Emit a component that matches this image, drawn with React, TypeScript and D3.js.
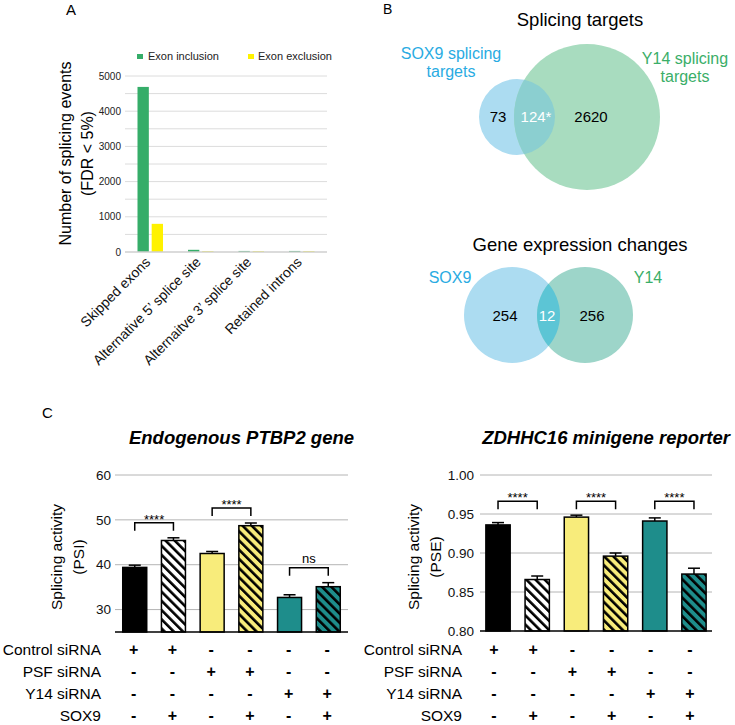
import React from 'react';
import * as d3 from 'd3';

const FONT = '"Liberation Sans", Arial, Helvetica, sans-serif';

// ---------- Panel A data ----------
const spliceCategories = ['Skipped exons', 'Alternative 5’ splice site', 'Alternaitve 3’ splice site', 'Retained introns'];
const seriesNames = ['Exon inclusion', 'Exon exclusion'];
const exonInclusion = [4690, 62, 30, 30];
const exonExclusion = [800, 22, 22, 22];
const countTicks = [0, 1000, 2000, 3000, 4000, 5000];

// ---------- Panel B data ----------
const splicingTitle = 'Splicing targets';
const splicingSetLabels = [['SOX9 splicing', 'targets'], ['Y14 splicing', 'targets']];
const splicingCounts = ['73', '124*', '2620'];
const expressionTitle = 'Gene expression changes';
const expressionSetLabels = ['SOX9', 'Y14'];
const expressionCounts = ['254', '12', '256'];

// ---------- Panel C data ----------
const conditionNames = ['Control siRNA', 'PSF siRNA', 'Y14 siRNA', 'SOX9'];
const conditionMatrix = [
  [1, 1, 0, 0, 0, 0],
  [0, 0, 1, 1, 0, 0],
  [0, 0, 0, 0, 1, 1],
  [0, 1, 0, 1, 0, 1],
];
const psiMeans = [39.4, 45.4, 42.5, 48.7, 32.7, 35.1];
const psiErrors = [0.5, 0.6, 0.45, 0.6, 0.6, 0.9];
const psiSignificance = ['****', '****', 'ns'];
const psiTicks = [30, 40, 50, 60];
const pseMeans = [0.936, 0.866, 0.946, 0.896, 0.941, 0.873];
const pseErrors = [0.003, 0.0045, 0.0025, 0.004, 0.004, 0.0075];
const pseSignificance = ['****', '****', '****'];
const pseTicks = [0.8, 0.85, 0.9, 0.95, 1.0];

const GREEN = '#35ad69';
const YELLOW = '#fff200';
const barFills = ['#000000', 'url(#hatchWhite)', '#f8ec7b', 'url(#hatchYellow)', '#1e8d8b', 'url(#hatchTeal)'];

function PanelA() {
  const x0 = d3.scaleBand<string>().domain(spliceCategories).range([125, 327]);
  const x1 = d3.scaleBand<string>().domain(seriesNames).range([12.5, 38]).paddingInner(0.2);
  const y = d3.scaleLinear().domain([0, 5000]).range([252, 76]);
  const grid = d3.range(500, 5001, 500);
  const series = [exonInclusion, exonExclusion];
  const colors = [GREEN, YELLOW];
  return (
    <g fontFamily={FONT}>
      <text x={66} y={15} fontSize={15}>A</text>
      {seriesNames.map((s, i) => (
        <g key={s}>
          <rect x={137 + i * 111} y={54} width={6} height={5} fill={colors[i]} />
          <text x={148 + i * 110} y={60} fontSize={11} fill="#222">{s}</text>
        </g>
      ))}
      {grid.map((g) => (
        <line key={g} x1={125} x2={327} y1={y(g)} y2={y(g)} stroke="#dcdcdc" strokeWidth={1} />
      ))}
      {countTicks.map((t) => (
        <text key={t} x={121} y={y(t)} dy="0.35em" textAnchor="end" fontSize={10} fill="#222">{t}</text>
      ))}
      {spliceCategories.map((c, ci) =>
        series.map((vals, si) => (
          <rect key={c + si} x={(x0(c) as number) + (x1(seriesNames[si]) as number)} y={y(vals[ci])}
            width={x1.bandwidth()} height={y(0) - y(vals[ci])} fill={colors[si]} />
        ))
      )}
      <line x1={125} x2={327} y1={y(0)} y2={y(0)} stroke="#cfcfcf" strokeWidth={1.5} />
      {spliceCategories.map((c) => {
        const cx = (x0(c) as number) + x0.bandwidth() / 2 + 1;
        return (
          <text key={c} transform={`translate(${cx},263) rotate(-45)`} textAnchor="end" fontSize={14} fill="#111">{c}</text>
        );
      })}
      <text transform="translate(70.5,153.5) rotate(-90)" textAnchor="middle" fontSize={16}>Number of splicing events</text>
      <text transform="translate(93,153.5) rotate(-90)" textAnchor="middle" fontSize={16}>(FDR &lt; 5%)</text>
    </g>
  );
}

function Venn({ id, cA, cB, rA, rB, colA, colB, colAB }: any) {
  return (
    <g>
      <defs>
        <clipPath id={id}>
          <circle cx={cA[0]} cy={cA[1]} r={rA} />
        </clipPath>
      </defs>
      <circle cx={cA[0]} cy={cA[1]} r={rA} fill={colA} />
      <circle cx={cB[0]} cy={cB[1]} r={rB} fill={colB} />
      <circle cx={cB[0]} cy={cB[1]} r={rB} fill={colAB} clipPath={`url(#${id})`} />
    </g>
  );
}

function PanelB() {
  const BLUE_T = '#29abe2';
  const GREEN_T = '#3aae68';
  return (
    <g fontFamily={FONT}>
      <text x={383} y={14} fontSize={14}>B</text>
      <text x={580} y={26} textAnchor="middle" fontSize={18.5}>{splicingTitle}</text>
      <Venn id="clipSplice" cA={[517, 117]} cB={[587, 117]} rA={38} rB={73}
        colA="#acdcf1" colB="#a8dcbf" colAB="#8bcfd0" />
      {splicingSetLabels[0].map((l, i) => (
        <text key={l} x={451} y={59 + i * 17.5} textAnchor="middle" fontSize={16} fill={BLUE_T}>{l}</text>
      ))}
      {splicingSetLabels[1].map((l, i) => (
        <text key={l} x={685} y={64 + i * 17.5} textAnchor="middle" fontSize={16} fill={GREEN_T}>{l}</text>
      ))}
      <text x={498} y={122} textAnchor="middle" fontSize={15}>{splicingCounts[0]}</text>
      <text x={536} y={122} textAnchor="middle" fontSize={15} fill="#fff">{splicingCounts[1]}</text>
      <text x={591} y={122} textAnchor="middle" fontSize={15}>{splicingCounts[2]}</text>

      <text x={580} y={251} textAnchor="middle" fontSize={18.5}>{expressionTitle}</text>
      <Venn id="clipExpr" cA={[512, 315]} cB={[585, 315]} rA={48} rB={48}
        colA="#acdcf1" colB="#9dd5c9" colAB="#5cc5d5" />
      <text x={450} y={283} textAnchor="middle" fontSize={16} fill={BLUE_T}>{expressionSetLabels[0]}</text>
      <text x={648} y={283} textAnchor="middle" fontSize={16} fill={GREEN_T}>{expressionSetLabels[1]}</text>
      <text x={505} y={321} textAnchor="middle" fontSize={15}>{expressionCounts[0]}</text>
      <text x={547} y={321} textAnchor="middle" fontSize={15} fill="#fff">{expressionCounts[1]}</text>
      <text x={592} y={321} textAnchor="middle" fontSize={15}>{expressionCounts[2]}</text>
    </g>
  );
}

function BarPanel({ means, errors, sig, ticks, domain, yRange, xRange, padOuter, title, titleX, yLabel, yLabelX,
  tickFmt, labelX, tableX, tableOffset, sharedBracket }: any) {
  const x = d3.scaleBand<number>().domain(d3.range(means.length)).range(xRange).paddingInner(0.38).paddingOuter(padOuter);
  const y = d3.scaleLinear().domain(domain).range(yRange);
  const bw = x.bandwidth();
  const cx = (i: number) => (x(i) as number) + bw / 2;
  const errTop = means.map((m: number, i: number) => y(m + errors[i]));
  const pairs = d3.range(sig.length).map((k) => [2 * k, 2 * k + 1]);
  const globalTop = Math.min(...errTop) - 14;
  return (
    <g fontFamily={FONT}>
      <text x={titleX} y={443.5} textAnchor="middle" fontSize={18.5} fontWeight="bold" fontStyle="italic">{title}</text>
      {ticks.map((t: number) => (
        <g key={t}>
          {t !== domain[0] && (
            <line x1={xRange[0]} x2={xRange[1]} y1={y(t)} y2={y(t)} stroke="#b4b4b4" strokeWidth={1} />
          )}
          <text x={labelX} y={y(t)} dy="0.35em" textAnchor="end" fontSize={13.5} fill="#111">{tickFmt(t)}</text>
        </g>
      ))}
      {means.map((m: number, i: number) => (
        <g key={i}>
          <line x1={cx(i)} x2={cx(i)} y1={y(m)} y2={errTop[i]} stroke="#000" strokeWidth={1.5} />
          <line x1={cx(i) - 6} x2={cx(i) + 6} y1={errTop[i]} y2={errTop[i]} stroke="#000" strokeWidth={1.5} />
          <rect x={x(i)} y={y(m)} width={bw} height={y(domain[0]) - y(m)} fill={barFills[i]} stroke="#000" strokeWidth={1.5} />
        </g>
      ))}
      <line x1={xRange[0]} x2={xRange[1]} y1={y(domain[0])} y2={y(domain[0])} stroke="#000" strokeWidth={1.5} />
      {pairs.map(([a, b], k) => {
        const top = sharedBracket ? globalTop : Math.min(errTop[a], errTop[b]) - 15;
        const isNs = sig[k] === 'ns';
        return (
          <g key={k}>
            <path d={`M${cx(a)},${top + 8}V${top}H${cx(b)}V${top + 8}`} fill="none" stroke="#000" strokeWidth={1.5} />
            <text x={(cx(a) + cx(b)) / 2} y={isNs ? top - 4.5 : top + 1} textAnchor="middle" fontSize={13}>{sig[k]}</text>
          </g>
        );
      })}
      <text transform={`translate(${yLabelX[0]},557) rotate(-90)`} textAnchor="middle" fontSize={15.5}>Splicing activity</text>
      <text transform={`translate(${yLabelX[1]},557) rotate(-90)`} textAnchor="middle" fontSize={15.5}>{yLabel}</text>
      {conditionNames.map((c, r) => (
        <g key={c}>
          <text x={tableX} y={655 + r * 22} textAnchor="end" fontSize={15.5}>{c}</text>
          {conditionMatrix[r].map((v, i) => (
            <text key={i} x={cx(i) + tableOffset} y={655 + r * 22} textAnchor="middle" fontSize={16} fontWeight="bold">
              {v ? '+' : '-'}
            </text>
          ))}
        </g>
      ))}
    </g>
  );
}

export default function App() {
  return (
    <svg width={735} height={725} style={{ position: 'absolute', left: 0, top: 0, background: '#fff' }}>
      <defs>
        {[['hatchWhite', '#ffffff'], ['hatchYellow', '#f8ec7b'], ['hatchTeal', '#1e8d8b']].map(([id, bg]) => (
          <pattern key={id} id={id} patternUnits="userSpaceOnUse" width={6.5} height={6.5} patternTransform="rotate(-45)">
            <rect width={6.5} height={6.5} fill={bg} />
            <line x1={1.3} y1={0} x2={1.3} y2={6.5} stroke="#000" strokeWidth={2.6} />
          </pattern>
        ))}
      </defs>
      <rect width={735} height={725} fill="#fff" />
      <PanelA />
      <PanelB />
      <text x={42} y={418} fontSize={15} fontFamily={FONT}>C</text>
      <BarPanel means={psiMeans} errors={psiErrors} sig={psiSignificance} ticks={psiTicks}
        domain={[25, 60]} yRange={[632, 475]} xRange={[115, 348]} padOuter={0.2}
        title="Endogenous PTBP2 gene" titleX={241.5} yLabel="(PSI)" yLabelX={[62, 83.5]}
        tickFmt={(t: number) => String(t)} labelX={111} tableX={101} tableOffset={-1} sharedBracket={false} />
      <BarPanel means={pseMeans} errors={pseErrors} sig={pseSignificance} ticks={pseTicks}
        domain={[0.8, 1.0]} yRange={[631, 475]} xRange={[480, 712]} padOuter={0.15}
        title="ZDHHC16 minigene reporter" titleX={606} yLabel="(PSE)" yLabelX={[418.5, 440.5]}
        tickFmt={(t: number) => t.toFixed(2)} labelX={474} tableX={462} tableOffset={-4} sharedBracket={true} />
    </svg>
  );
}
